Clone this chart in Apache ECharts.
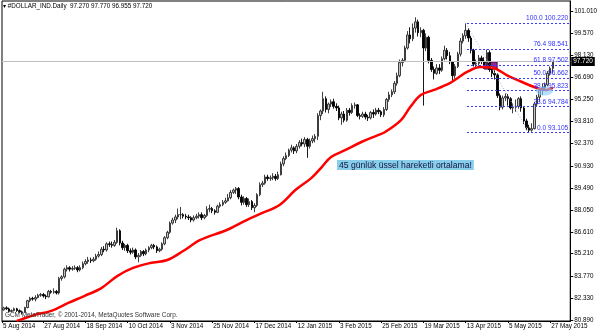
<!DOCTYPE html>
<html><head><meta charset="utf-8">
<script src="https://cdn.jsdelivr.net/npm/echarts@6/dist/echarts.min.js"></script>
<style>html,body{margin:0;padding:0;background:#fff}#c{width:600px;height:333px}</style>
</head><body><div id="c"></div>
<script>
// ---- data ----
const xLabels = ['5 Aug 2014','27 Aug 2014','18 Sep 2014','10 Oct 2014','3 Nov 2014','25 Nov 2014','17 Dec 2014','12 Jan 2015','3 Feb 2015','25 Feb 2015','19 Mar 2015','13 Apr 2015','5 May 2015','27 May 2015'];
const xLabelBars = [0,16,32,48,64,80,96,112,128,144,160,176,192,208];
const yLabels = ['80.890','82.330','83.770','85.210','86.610','88.050','89.490','90.930','92.370','93.810','95.250','96.690','98.130','99.570','101.010'];
// daily bars: [open, close, low, high]
const candles = [
[81.60,81.55,81.45,81.68],[81.55,81.68,81.50,81.75],[81.68,81.62,81.55,81.78],[81.62,81.45,81.40,81.70],
[81.45,81.50,81.40,81.58],[81.50,81.62,81.45,81.70],[81.62,81.50,81.42,81.68],[81.50,81.42,81.35,81.58],
[81.42,81.38,81.25,81.50],[81.38,81.70,81.35,81.75],[81.70,82.15,81.65,82.20],[82.15,82.30,82.05,82.40],
[82.30,82.25,82.15,82.40],[82.25,82.35,82.10,82.50],[82.35,82.50,82.30,82.60],[82.50,82.55,82.40,82.65],
[82.55,82.45,82.35,82.65],[82.45,82.40,82.25,82.55],[82.40,82.75,82.35,82.85],[82.75,82.70,82.60,82.85],
[82.70,82.75,82.60,82.95],[82.75,82.65,82.55,82.85],[82.65,83.60,82.55,83.70],[83.60,83.70,83.45,83.80],
[83.70,84.20,83.60,84.30],[84.20,84.30,84.05,84.45],[84.30,84.20,84.05,84.40],[84.20,84.25,84.10,84.40],
[84.25,84.30,84.15,84.45],[84.30,84.15,84.00,84.40],[84.15,84.30,84.05,84.45],[84.30,84.55,84.20,84.70],
[84.55,84.70,84.45,84.85],[84.70,84.80,84.55,85.00],[84.80,84.75,84.60,84.95],[84.75,84.85,84.65,85.00],
[84.85,85.05,84.75,85.20],[85.05,85.15,84.95,85.35],[85.15,85.50,85.05,85.65],[85.50,85.45,85.30,85.70],
[85.45,85.85,85.35,85.95],[85.85,85.80,85.65,86.00],[85.80,85.75,85.60,86.00],[85.75,85.95,85.65,86.10],
[85.95,86.70,85.85,86.90],[86.70,85.90,85.75,86.80],[85.90,85.60,85.45,86.05],[85.60,85.75,85.40,85.85],
[85.75,85.40,85.25,85.85],[85.40,85.30,85.15,85.55],[85.30,85.45,85.20,85.60],[85.45,85.00,84.85,85.55],
[85.00,85.10,84.65,85.25],[85.10,85.35,85.00,85.45],[85.35,85.20,85.05,85.45],[85.20,85.45,85.10,85.55],
[85.45,85.60,85.30,85.70],[85.60,85.75,85.50,85.85],[85.75,85.65,85.50,85.85],[85.65,85.40,85.25,85.75],
[85.40,85.50,85.30,85.60],[85.50,85.85,85.40,85.95],[85.85,86.25,85.75,86.35],[86.25,86.60,86.15,86.70],
[86.60,87.20,86.50,87.30],[87.20,87.40,87.10,87.55],[87.40,87.60,87.20,87.75],[87.60,87.75,87.45,88.15],
[87.75,87.75,87.45,88.25],[87.75,87.65,87.50,87.85],[87.65,87.60,87.45,87.80],[87.60,87.55,87.40,87.75],
[87.55,87.40,87.25,87.65],[87.40,87.55,87.30,87.70],[87.55,87.65,87.45,87.80],[87.65,87.75,87.50,87.90],
[87.75,87.55,87.40,87.90],[87.55,87.70,87.45,87.80],[87.70,88.10,87.60,88.30],[88.10,88.15,87.90,88.40],
[88.15,88.00,87.85,88.25],[88.00,87.90,87.75,88.10],[87.90,88.30,87.85,88.40],[88.30,88.40,88.20,88.55],
[88.40,88.55,88.30,88.70],[88.55,88.65,88.45,88.85],[88.65,88.85,88.60,89.10],[88.85,89.20,88.75,89.35],
[89.20,89.35,89.10,89.45],[89.35,89.45,89.10,89.55],[89.45,88.90,88.75,89.55],[88.90,88.55,88.35,89.05],
[88.55,88.80,88.40,88.95],[88.80,88.40,88.25,88.90],[88.40,88.60,88.25,88.80],[88.60,88.20,88.05,88.70],
[88.20,88.35,87.90,88.50],[88.35,89.05,88.25,89.15],[89.05,89.70,88.95,89.85],[89.70,89.80,89.55,89.95],
[89.80,90.20,89.70,90.35],[90.20,90.10,89.95,90.35],[90.10,90.15,89.95,90.30],[90.15,90.25,90.00,90.45],
[90.25,90.10,89.95,90.40],[90.10,90.35,90.00,90.55],[90.35,91.05,90.30,91.20],[91.05,91.40,90.90,91.55],
[91.40,91.60,91.30,91.80],[91.60,91.95,91.50,92.05],[91.95,92.10,91.80,92.30],[92.10,91.90,91.70,92.20],
[91.90,92.20,91.75,92.35],[92.20,92.45,92.05,92.60],[92.45,92.35,92.20,92.70],[92.35,92.65,92.15,92.80],
[92.65,92.20,91.45,92.75],[92.20,92.55,92.05,92.70],[92.55,92.70,92.40,92.90],[92.70,92.85,92.45,93.00],
[92.85,94.20,92.60,94.35],[94.20,94.50,93.90,94.60],[94.50,95.30,94.30,95.75],[95.30,94.60,94.40,95.45],
[94.60,94.95,94.35,95.05],[94.95,95.10,94.75,95.25],[95.10,94.80,94.65,95.30],[94.80,94.70,94.50,95.00],
[94.70,94.05,93.90,94.85],[94.05,94.30,93.60,94.45],[94.30,93.90,93.75,94.50],[93.90,94.55,93.80,94.70],
[94.55,94.40,94.20,94.70],[94.40,94.85,94.30,95.00],[94.85,94.90,94.65,95.05],[94.90,94.20,94.10,94.95],
[94.20,94.15,93.95,94.35],[94.15,94.30,94.05,94.45],[94.30,94.10,93.95,94.45],[94.10,94.05,93.85,94.25],
[94.05,94.40,93.95,94.50],[94.40,94.30,94.05,94.60],[94.30,94.55,94.20,94.70],[94.55,94.45,94.30,94.70],
[94.45,94.25,94.10,94.55],[94.25,94.60,94.10,94.75],[94.60,95.25,94.50,95.35],[95.25,95.55,95.10,95.75],
[95.55,95.75,95.40,95.90],[95.75,96.30,95.60,96.45],[96.30,96.80,96.15,97.00],[96.80,97.65,96.70,97.85],
[97.65,97.80,97.40,97.95],[97.80,98.60,97.70,98.75],[98.60,99.45,98.50,99.70],[99.45,99.20,98.90,99.95],
[99.20,99.90,99.05,100.20],[99.90,100.30,99.60,100.60],[100.30,99.60,99.35,100.45],[99.60,99.75,99.30,99.95],
[99.75,98.60,94.85,99.85],[98.60,99.30,98.40,99.55],[99.30,97.80,97.60,99.40],[97.80,97.20,97.05,97.95],
[97.20,96.95,96.55,97.40],[96.95,97.30,96.85,97.55],[97.30,97.15,96.90,97.55],[97.15,97.90,97.05,98.05],
[97.90,98.45,97.80,98.75],[98.45,98.10,97.85,98.60],[98.10,97.70,97.55,98.35],[97.70,96.80,96.40,97.75],
[96.80,97.40,96.60,97.55],[97.40,98.20,97.30,98.35],[98.20,99.05,98.05,99.25],[99.05,99.40,98.90,99.55],
[99.40,99.75,99.20,100.22],[99.75,99.25,99.00,99.90],[99.25,98.45,98.25,99.40],[98.45,97.55,97.40,98.55],
[97.55,97.60,97.30,97.85],[97.60,97.95,97.45,98.15],[97.95,97.75,97.55,98.10],[97.75,97.45,97.25,98.00],
[97.45,98.30,97.30,98.50],[98.30,97.20,97.05,98.45],[97.20,96.95,96.70,97.40],[96.95,96.85,96.55,97.15],
[96.85,95.50,95.35,96.95],[95.50,94.75,94.55,95.65],[94.75,95.35,94.60,95.50],[95.35,95.45,95.15,95.65],
[95.45,95.30,94.85,95.60],[95.30,94.70,94.60,95.40],[94.70,94.75,94.35,95.00],[94.75,94.80,94.45,95.25],
[94.80,95.30,94.65,95.40],[95.30,94.70,94.45,95.45],[94.70,93.85,93.65,94.80],[93.85,93.40,93.25,94.00],
[93.40,93.25,93.105,93.60],[93.25,93.35,93.15,93.70],[93.35,94.95,93.30,95.10],[94.95,95.40,94.80,95.55],
[95.40,95.85,95.10,95.95],[95.85,96.00,95.55,96.30],[96.00,96.20,95.90,96.35],[96.20,96.95,96.10,97.10],
[96.95,97.27,96.80,97.40],[97.270,97.720,96.955,97.770]
];
// 45-day EMA (bar index, value)
const emaBars = [6,8,12.7,19,25.5,31.5,38,44,50,56.5,63,69,75.5,85.5,93,99,105.5,111.5,117.5,121.5,125,130.5,136.5,143,145.5,151.5,155,159,164,170,173,176.5,181.5,186.5,191.5,196.5,200,204,206.5,209];
const emaVals = [80.83,80.95,81.22,81.48,82.0,82.45,82.97,83.75,84.28,84.6,84.8,85.38,86.1,86.75,87.4,87.86,88.38,89.35,90.13,90.85,91.5,91.96,92.48,92.94,93.13,93.91,94.76,95.54,95.87,96.32,96.65,97.04,97.36,97.3,96.84,96.45,96.19,95.93,95.87,96.0];
const fibPct = ['100.0','76.4','61.8','50.0','38.2','23.6','0.0'];
const fibVal = [100.220,98.541,97.502,96.662,95.823,94.784,93.105];
const fibStartBar = 176.5, fibLowBar = 200;
const lastPrice = 97.720;
const titleText = '▾ #DOLLAR_IND.Daily  97.270 97.770 96.955 97.720';
const noteText = '45 günlük üssel hareketli ortalama!';
const copyText = 'GCM MetaTrader, © 2001-2014, MetaQuotes Software Corp.';
const boxBars = [183.0, 187.9], boxVals = [97.69, 97.23];
const blobPoint = [205.8, 95.80];

// ---- chart ----
const X_MIN = 0.375, X_MAX = 215.6;
const Y_MIN = 80.825, Y_MAX = 101.661;
const FONT = 'Liberation Sans';
const chart = echarts.init(document.getElementById('c'), null, {renderer:'canvas'});

const fibLines = fibVal.map((v,i)=>[
  {coord:[fibStartBar, v], lineStyle:{color:'#3b3bff', type:[2,2], width:1},
   label:{show:true, position:'insideEndTop', distance:[2,1], formatter: fibPct[i]+' '+v.toFixed(3), color:'#3030ff', fontSize:6.6, fontFamily:FONT}},
  {coord:[X_MAX, v]}
]);
const markLines = [
  [{coord:[X_MIN, lastPrice], lineStyle:{color:'#c0c0c0', type:'solid', width:1},
    label:{show:true, position:'end', distance:1, formatter: lastPrice.toFixed(3), color:'#fff', backgroundColor:'#000', padding:[2,2,1,2], fontSize:6.4, fontFamily:FONT}},
   {coord:[X_MAX, lastPrice]}],
  [{coord:[fibStartBar-0.5, fibVal[0]], lineStyle:{color:'#9fb0dc', type:[1,2], width:1}, label:{show:false}},
   {coord:[fibLowBar, fibVal[6]]}],
  ...fibLines
];

chart.setOption({
  animation:false,
  backgroundColor:'#fff',
  textStyle:{fontFamily:FONT},
  grid:{left:0, right:26, top:1, bottom:12, show:true, borderColor:'#000', borderWidth:1, backgroundColor:'#fff'},
  xAxis:{type:'value', min:X_MIN, max:X_MAX, splitLine:{show:false},
    axisLine:{show:true, onZero:false, lineStyle:{color:'#000', width:1}},
    axisTick:{show:true, length:2, customValues: xLabelBars.map(b=>Math.max(b,X_MIN)), lineStyle:{color:'#000'}},
    axisLabel:{show:true, customValues: xLabelBars.map(b=>Math.max(b,X_MIN)), align:'left', margin:2, padding:[0,0,0,1],
      fontSize:6.3, color:'#000', fontFamily:FONT,
      formatter:(v)=>xLabels[Math.round(v/16)]}
  },
  yAxis:{type:'value', position:'right', min:Y_MIN, max:Y_MAX, splitLine:{show:false},
    axisLine:{show:true, lineStyle:{color:'#000', width:1}},
    axisTick:{show:true, length:3, inside:false, customValues: yLabels.map(Number), lineStyle:{color:'#000'}},
    axisLabel:{show:true, customValues: yLabels.map(Number), margin:4, fontSize:6.3, color:'#000', fontFamily:FONT,
      formatter:(v)=>v.toFixed(3)}
  },
  series:[
    {type:'candlestick', z:2, barWidth:2, clip:true,
     data: candles.map((c,i)=>[i, c[0], c[1], c[2], c[3]]),
     itemStyle:{color:'#c4c4c4', color0:'#000', borderColor:'#2a2a2a', borderColor0:'#000', borderWidth:0.9},
     markLine:{silent:true, symbol:['none','none'], animation:false, data: markLines}
    },
    {type:'line', z:3, smooth:0.35, showSymbol:false, silent:true,
     data: emaBars.map((b,i)=>[b, emaVals[i]]),
     lineStyle:{color:'#ff0000', width:2.5}},
    {type:'scatter', z:5, silent:true, symbol:'circle', symbolSize:[17,9],
     data:[blobPoint], itemStyle:{color:'rgba(135,206,250,0.78)'},
     markArea:{silent:true, data:[[{coord:[boxBars[0], boxVals[0]]},{coord:[boxBars[1], boxVals[1]]}]],
       itemStyle:{color:'rgba(128,0,128,0.85)', borderColor:'#4a004a', borderWidth:1}}
    }
  ],
  graphic:[
    {type:'text', left:3, top:3, z:20, style:{text:titleText, fontSize:6.3, fill:'#000', fontFamily:FONT}},
    {type:'text', left:337, top:160, z:20, style:{text:noteText, fontSize:8.6, fill:'#15153f', fontFamily:FONT, backgroundColor:'#87ceeb', padding:[1,2,0,2]}},
    {type:'text', left:5, top:312, z:20, style:{text:copyText, fontSize:6.4, fill:'#333', fontFamily:FONT}}
  ]
});
</script>
</body></html>
